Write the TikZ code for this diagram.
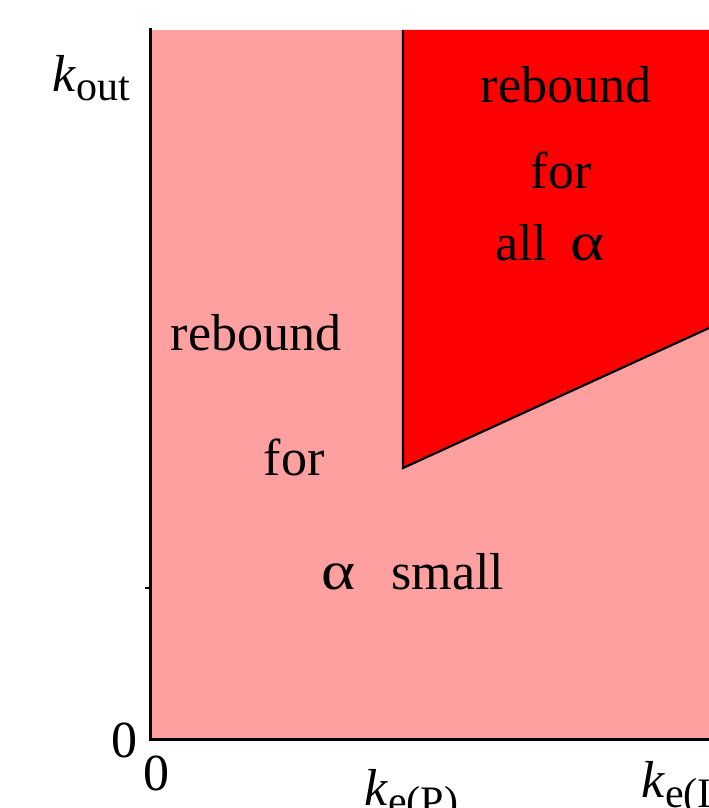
\documentclass[tikz,border=0pt]{standalone}
\usepackage{fontspec}
\usepackage{graphicx}
\setmainfont{Liberation Serif}
\definecolor{pinkfill}{RGB}{255,160,160}
\definecolor{redfill}{RGB}{255,0,0}
\newcommand{\bigalpha}{\scalebox{1.25}[1.05]{α}}
\begin{document}
\begin{tikzpicture}[x=1pt,y=-1pt,
  lbl/.style={font=\fontsize{52}{60}\selectfont, inner sep=0pt},
  axisline/.style={line width=3pt},
  border/.style={line width=2.2pt}]
\useasboundingbox (0,0) rectangle (709,808);
% regions
\fill[pinkfill] (151,30) rectangle (720,738);
\coordinate (tl) at (403,30);
\coordinate (bl) at (403,468);
\coordinate (br) at (720,323);
\coordinate (tr) at (720,30);
\fill[redfill] (tl) -- (bl) -- (br) -- (tr) -- cycle;
\draw[border] (tl) -- (bl) -- (br);
% axes
\coordinate (ytop) at (150,28);
\coordinate (orig) at (150,739);
\coordinate (xend) at (720,739);
\draw[axisline] (ytop) -- (orig) -- (xend);
\coordinate (tickA) at (145,588);
\coordinate (tickB) at (150,588);
\draw[border] (tickA) -- (tickB);
% axis labels
\node[lbl, anchor=base west] (kout) at (52,92) {\textit{k}\raisebox{-9pt}{\fontsize{42}{48}\selectfont out}};
\node[lbl] (zeroy) at (124,740) {0};
\node[lbl] (zerox) at (156,773) {0};
\node[lbl, anchor=base west] (keP) at (364,805) {\textit{k}\raisebox{-10pt}{\fontsize{42}{48}\selectfont e(P)}};
\node[lbl, anchor=base west] (keI) at (641,797) {\textit{k}\raisebox{-10pt}{\fontsize{42}{48}\selectfont e(I)}};
% region texts
\node[lbl] (t1) at (566,85) {rebound};
\node[lbl] (t2) at (561,170) {for};
\node[lbl, anchor=base west] (t3) at (495,260) {all\hspace{0.45em}\bigalpha};
\node[lbl] (t4) at (256,333) {rebound};
\node[lbl] (t5) at (294,457) {for};
\node[lbl, anchor=base west] (t6) at (321,589) {\bigalpha\hspace{0.7em}small};
\end{tikzpicture}
\end{document}
